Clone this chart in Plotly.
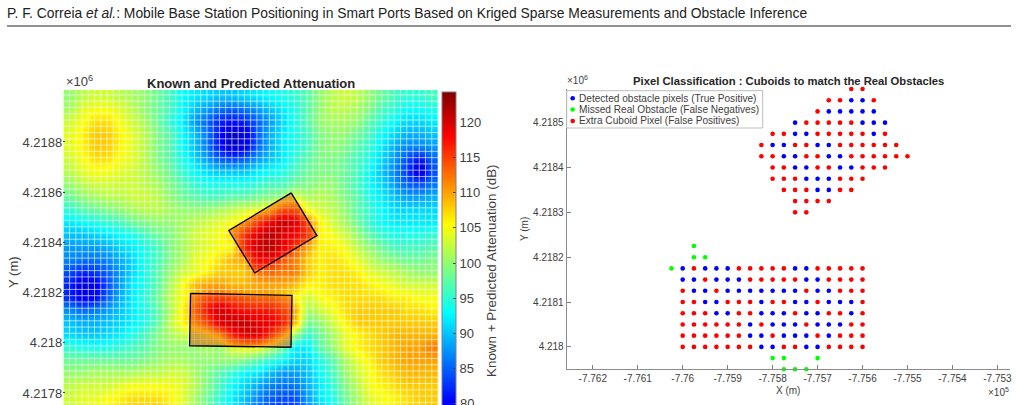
import numpy as np
import plotly.graph_objects as go

W, H = 1018, 405

# --- Attenuation field (dB), sampled every 50 m, north to south, west to east ---
field_x = [-776487.5 + 50 * i for i in range(30)]
field_y = [4218983 - 50 * j for j in range(26)]
field_db = [
    [100,102,103,103,102,101,100,98,96,93,92,91,90,90,91,92,93,94,95,97,100,102,103,102,100,98,96,95,95,96],
    [101,104,105,105,104,102,100,98,96,93,90,88,86,85,86,88,90,92,94,97,100,102,102,101,99,96,95,93,93,94],
    [103,105,107,107,105,103,101,98,95,92,88,85,82,81,82,85,88,91,94,97,100,101,101,100,97,95,93,91,91,92],
    [104,106,108,108,106,104,102,99,97,93,90,86,81,76,78,85,89,92,94,96,99,100,100,98,96,93,91,89,89,90],
    [104,106,108,108,106,104,102,99,97,93,90,86,81,77,79,85,89,92,94,96,99,100,99,97,95,92,89,87,87,88],
    [103,105,107,107,105,104,102,99,97,94,91,88,85,84,85,88,90,92,95,97,99,99,98,96,94,91,88,84,81,85],
    [102,104,105,105,104,103,102,100,98,95,93,91,90,90,90,92,93,94,96,98,99,99,98,96,93,90,87,83,78,84],
    [100,102,103,103,103,103,102,101,99,97,95,94,94,94,94,95,96,96,98,99,100,100,98,96,93,91,88,85,84,86],
    [98,100,101,102,102,103,103,102,100,98,97,96,96,97,97,98,99,100,103,101,102,101,99,97,94,92,90,88,88,89],
    [95,97,98,99,100,101,102,102,101,100,100,100,101,102,103,104,105,112,112,105,103,102,100,97,95,93,91,91,91,91],
    [92,93,94,95,96,98,99,100,100,101,102,103,104,105,107,113,118,122,120,112,106,103,101,98,95,93,92,92,92,92],
    [90,90,91,92,93,94,96,98,99,101,103,104,105,107,114,120,123,120,118,114,106,105,103,100,97,95,94,94,94,95],
    [88,88,88,89,91,92,94,96,99,101,103,104,105,106,115,121,123,119,114,110,106,106,105,102,100,98,96,96,96,97],
    [87,86,86,87,89,91,94,96,99,101,104,105,107,109,110,118,118,114,112,108,106,107,106,104,102,100,99,98,98,99],
    [84,82,83,85,88,91,94,97,100,103,104,106,108,108,108,112,113,112,112,108,106,107,107,106,104,103,102,101,100,100],
    [82,78,79,84,88,92,94,97,101,105,109,110,110,109,109,110,110,110,109,106,106,107,107,107,106,105,104,103,103,103],
    [82,79,80,85,89,92,95,98,102,105,108,112,113,112,111,110,110,108,106,103,105,106,107,107,107,107,106,106,105,105],
    [87,85,86,88,90,92,94,97,101,106,110,117,121,118,116,116,116,113,110,101,103,105,107,108,108,108,108,107,107,106],
    [90,89,89,90,91,92,94,97,102,106,108,113,120,122,122,120,119,116,110,98,100,103,106,108,108,108,108,108,108,108],
    [91,90,90,91,92,94,96,99,101,103,102,104,108,116,120,120,115,108,101,95,98,101,104,106,107,108,109,109,109,109],
    [95,94,94,94,95,96,97,99,100,100,100,101,100,104,105,105,102,98,92,92,97,100,104,106,107,108,109,110,110,112],
    [98,98,98,98,98,98,99,100,101,101,100,100,100,100,99,97,95,93,91,91,94,97,101,104,106,108,109,110,110,110],
    [100,100,101,101,101,101,102,102,103,103,101,99,97,95,93,92,90,88,88,90,93,96,100,103,105,107,108,109,109,109],
    [102,103,103,103,104,105,105,105,105,104,102,99,96,93,91,89,87,86,86,89,92,95,99,102,105,106,107,108,108,108],
    [103,104,104,105,106,107,107,107,106,104,101,98,95,92,90,87,85,84,84,88,92,94,98,101,104,105,106,107,108,108],
    [103,104,105,106,107,108,108,108,106,104,101,98,94,92,89,86,84,83,83,87,90,93,97,101,103,105,106,107,107,108],
]

# Cuboid footprints (m)
cuboid_north_x = [-775600, -775497, -775746, -775850]
cuboid_north_y = [4218597, 4218427, 4218278, 4218447]
cuboid_south_x = [-776003, -775597, -775601, -776007]
cuboid_south_y = [4218197, 4218189, 4217982, 4217988]

# Pixel classes: B true positive, G false negative, R false positive
north_columns = [-775825 + 25 * i for i in range(14)]
north_rows = [4218575, 4218550, 4218525, 4218500, 4218475, 4218450,
              4218425, 4218400, 4218375, 4218350, 4218325, 4218300]
north_classes = [
    "........RR....",
    "......RRBBR...",
    ".....RBBBBB...",
    "...BRRRRRBBB..",
    ".RRBBRRRRRBR..",
    "RBBRRBBRRRRRR.",
    "RRBBRRBBRRRRRR",
    ".RRBBRRBBRRR..",
    ".RRRBBBRRR....",
    "..RRRBBRR.....",
    "...RRRR.......",
    "...RR.........",
]
south_columns = [-776025 + 25 * i for i in range(18)]
south_rows = [4218225, 4218200, 4218175, 4218150, 4218125, 4218100, 4218075,
              4218050, 4218025, 4218000, 4217975, 4217950]
south_classes = [
    "..G...............",
    "..GG..............",
    "GBRBBBRRRRRBBRRRRR",
    ".BBRBBBRRRRRBBRRRR",
    ".RBBRBBBBBBBRBBRRR",
    ".RRBBRRRBRRBBRBBBR",
    ".RRRBBRRBBBRBBRRBR",
    ".RRRRRRBRBBBRBBBRR",
    ".RRRRRRBBRBBBRBRRR",
    ".RRRRRRRBBRRBBRRRR",
    ".........GG..G....",
    "..........GGG.....",
]

legend_labels = ["Detected obstacle pixels (True Positive)",
                 "Missed Real Obstacle (False Negatives)",
                 "Extra Cuboid Pixel (False Positives)"]
class_colors = {"B": "#0000ff", "G": "#00ff00", "R": "#ff0000"}

field_yticks = [4217800, 4218000, 4218200, 4218400, 4218600, 4218800]
field_ytext = ["4.2178", "4.218", "4.2182", "4.2184", "4.2186", "4.2188"]
colorbar_ticks = [80, 85, 90, 95, 100, 105, 110, 115, 120]
pixel_xticks = [-776200, -776100, -776000, -775900, -775800, -775700, -775600, -775500, -775400, -775300]
pixel_xtext = ["-7.762", "-7.761", "-7.76", "-7.759", "-7.758", "-7.757", "-7.756", "-7.755", "-7.754", "-7.753"]
pixel_yticks = [4218000, 4218100, 4218200, 4218300, 4218400, 4218500]
pixel_ytext = ["4.218", "4.2181", "4.2182", "4.2183", "4.2184", "4.2185"]

matlab_jet = [[0, "rgb(0,0,143)"], [0.125, "rgb(0,0,255)"], [0.375, "rgb(0,255,255)"],
              [0.625, "rgb(255,255,0)"], [0.875, "rgb(255,0,0)"], [1, "rgb(128,0,0)"]]

INK = "#404040"
FONT = "Liberation Sans"
FX = (-776512.5, -775012.5)
FY = (4217752, 4219007)


def fx(px):
    return px / W


def fy(py):
    return 1 - py / H


fig = go.Figure()

fig.add_trace(go.Heatmap(
    x=field_x, y=field_y, z=field_db, zsmooth="best", zmin=74, zmax=124.3,
    colorscale=matlab_jet, xaxis="x", yaxis="y", hoverinfo="skip",
    colorbar=dict(
        x=fx(441.5), xanchor="left", xpad=0, thickness=13.5, thicknessmode="pixels",
        y=fy(92), yanchor="top", ypad=0, len=353.6, lenmode="pixels",
        tickvals=colorbar_ticks, ticks="inside", ticklen=3, tickcolor=INK,
        outlinecolor="#808080", outlinewidth=1,
        tickfont=dict(family=FONT, size=13, color=INK),
    ),
))

# Cell boundaries of the 25 m raster
edges_x = np.arange(FX[0], FX[1] + 1, 25.0)
edges_y = np.arange(4219012.5, FY[0] - 1, -25.0)
grid_x, grid_y = [], []
for v in edges_x:
    grid_x += [v, v, None]
    grid_y += [FY[0], FY[1], None]
for v in edges_y:
    grid_x += [FX[0], FX[1], None]
    grid_y += [v, v, None]
fig.add_trace(go.Scatter(x=grid_x, y=grid_y, mode="lines", xaxis="x", yaxis="y",
                         line=dict(color="rgba(255,255,255,0.62)", width=1),
                         hoverinfo="skip", showlegend=False))

for qx, qy in ((cuboid_north_x, cuboid_north_y), (cuboid_south_x, cuboid_south_y)):
    fig.add_trace(go.Scatter(x=qx + qx[:1], y=qy + qy[:1], mode="lines", fill="toself",
                             fillcolor="rgba(230,0,0,0.35)", xaxis="x", yaxis="y",
                             line=dict(color="#000000", width=1.3),
                             hoverinfo="skip", showlegend=False))

# Classified pixels, one trace per class
points = {"B": ([], []), "G": ([], []), "R": ([], [])}
for cols, rows, classes in ((north_columns, north_rows, north_classes),
                            (south_columns, south_rows, south_classes)):
    for y, line in zip(rows, classes):
        for x, c in zip(cols, line):
            if c in points:
                points[c][0].append(x)
                points[c][1].append(y)

for c, (xs, ys) in points.items():
    fig.add_trace(go.Scatter(x=xs, y=ys, mode="markers", xaxis="x2", yaxis="y2", cliponaxis=False,
                             marker=dict(color=class_colors[c], size=4.6, line=dict(width=0)),
                             showlegend=False, hoverinfo="skip"))

shapes = [
    dict(type="line", xref="paper", yref="paper", x0=fx(7), x1=fx(1011), y0=fy(26), y1=fy(26),
         line=dict(color="#222222", width=1)),
    dict(type="rect", xref="paper", yref="paper", x0=fx(566.7), x1=fx(762.7), y0=fy(128), y1=fy(90.7),
         fillcolor="white", line=dict(color="#bdbdbd", width=1), layer="above"),
]
annotations = []


def text(s, x, y, size, color=INK, anchor="center", vanchor="middle", angle=0):
    annotations.append(dict(text=s, x=fx(x), y=fy(y), xref="paper", yref="paper", showarrow=False,
                            xanchor=anchor, yanchor=vanchor, textangle=angle, borderpad=0, borderwidth=0,
                            font=dict(family=FONT, size=size, color=color)))


for c, label, py in zip("BGR", legend_labels, (98.3, 109.5, 121)):
    shapes.append(dict(type="circle", xref="paper", yref="paper", layer="above",
                       x0=fx(570.4), x1=fx(575), y0=fy(py + 2.3), y1=fy(py - 2.3),
                       fillcolor=class_colors[c], line=dict(width=0)))
    text(label, 578.5, py, 10.1, anchor="left")

text("P. F. Correia <i>et al.</i>: Mobile Base Station Positioning in Smart Ports Based on "
     "Kriged Sparse Measurements and Obstacle Inference", 7, 13, 13.87, color="#222222", anchor="left")
text("<b>Known and Predicted Attenuation</b>", 251, 84, 13, color="#262626")
text("<b>Pixel Classification : Cuboids to match the Real Obstacles</b>", 788.5, 81, 11.25, color="#262626")
text("×10<sup>6</sup>", 66, 81, 13, anchor="left")
text("×10<sup>6</sup>", 567, 80, 10, anchor="left")
text("×10<sup>5</sup>", 988, 392, 10, anchor="left")
text("Y (m)", 13, 272, 13, angle=-90)
text("Y (m)", 524, 229, 10, angle=-90)
text("X (m)", 788, 390.5, 10)
text("Known + Predicted Attenuation (dB)", 491, 271, 13.4, angle=-90)
text(str(colorbar_ticks[0]), 459.5, 403, 13, anchor="left")

fig.update_layout(
    width=W, height=H, paper_bgcolor="white", plot_bgcolor="white", showlegend=False,
    margin=dict(l=0, r=0, t=0, b=0, autoexpand=False),
    shapes=shapes, annotations=annotations,
    xaxis=dict(domain=[fx(63.3), fx(438)], range=list(FX), showgrid=False, zeroline=False,
               showticklabels=False, ticks=""),
    yaxis=dict(domain=[0, fy(90)], range=list(FY), showgrid=False, zeroline=False,
               tickvals=field_yticks, ticktext=field_ytext, ticks="inside", ticklen=2,
               tickcolor=INK, tickfont=dict(family=FONT, size=13, color=INK), ticklabelstandoff=0),
    xaxis2=dict(domain=[fx(566.7), fx(1010)], range=[-776258, -775272], showgrid=False, zeroline=False,
                anchor="y2", tickvals=pixel_xticks, ticktext=pixel_xtext, ticks="inside", ticklen=4,
                tickcolor="#808080", showline=True, linecolor="#8c8c8c", linewidth=1,
                tickfont=dict(family=FONT, size=10, color=INK)),
    yaxis2=dict(domain=[fy(369.3), fy(89)], range=[4217950, 4218575], showgrid=False, zeroline=False,
                anchor="x2", tickvals=pixel_yticks, ticktext=pixel_ytext, ticks="inside", ticklen=4,
                tickcolor="#808080", showline=True, linecolor="#8c8c8c", linewidth=1,
                tickfont=dict(family=FONT, size=10, color=INK)),
)

fig.write_html("out.html")
